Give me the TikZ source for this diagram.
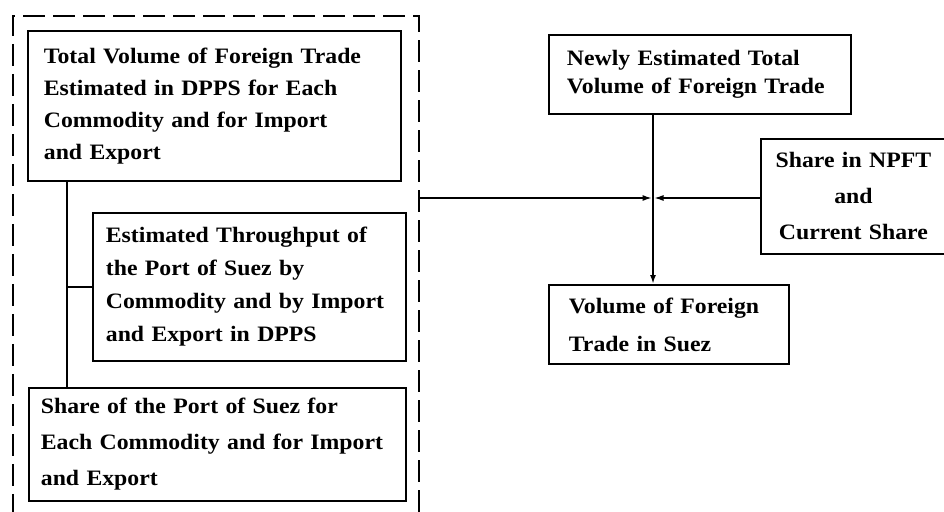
\documentclass[tikz,border=0pt]{standalone}
\usepackage{fontspec}
\setmainfont{Liberation Serif}[FakeStretch=1.08]
\usetikzlibrary{arrows.meta}

\tikzset{
  flowbox/.style={draw, line width=1.8pt, anchor=north west, align=left,
    inner xsep=16pt, inner ysep=0pt, font=\bfseries\fontsize{22}{#1}\selectfont},
  flowbox/.default=32,
  link/.style={line width=1.8pt},
  feed/.style={line width=1.2pt, shorten >=1.5pt, -{Latex[length=9pt,width=6pt]}},
}

\begin{document}
\begin{tikzpicture}[x=1pt,y=-1pt]
\clip (0,0) rectangle (944,511);
% the dashed frame runs on past the bottom of the page
\node[draw, dash pattern=on 22pt off 8pt, line width=1.8pt, anchor=north west,
  minimum width=406pt, minimum height=540pt] (group) at (12,15) {};

\node[flowbox=32, text width=341pt, minimum height=150pt] (total) at (27,30)
  {Total Volume of Foreign Trade\\Estimated in DPPS for Each\\Commodity and for Import\\and Export};
\node[flowbox=33, inner xsep=13pt, text width=287pt, minimum height=148pt] (port) at (92,212)
  {Estimated Throughput of\\the Port of Suez by\\Commodity and by Import\\and Export in DPPS};
\node[flowbox=36, inner xsep=12pt, text width=353pt, minimum height=113pt] (share) at (28,387)
  {Share of the Port of Suez for\\Each Commodity and for Import\\and Export};

\node[flowbox=28, inner xsep=18pt, text width=266pt, minimum height=79pt] (newtotal) at (548,34)
  {Newly Estimated Total\\Volume of Foreign Trade};
\node[flowbox=36, align=center, inner xsep=10pt, text width=165pt, minimum height=115pt] (npft) at (760,138)
  {Share in NPFT\\and\\Current Share};
\node[flowbox=38, inner xsep=20pt, text width=200pt, minimum height=79pt] (suez) at (548,284)
  {Volume of Foreign\\Trade in Suez};

\node[coordinate] (trunk) at (67,0) {};
\node[coordinate] (stem) at (653,0) {};
\node[coordinate] (junction) at (653,198) {};

\draw[link] (total.south -| trunk) -- (share.north -| trunk);
\draw[link] (port.west) -- (port.west -| trunk);
\draw[line width=2.4pt, -{Latex[length=9pt,width=6pt]}] (newtotal.south -| stem) -- (suez.north -| stem);
\draw[feed] (group.east |- junction) -- (junction);
\draw[feed] (npft.west |- junction) -- (junction);
\end{tikzpicture}
\end{document}
